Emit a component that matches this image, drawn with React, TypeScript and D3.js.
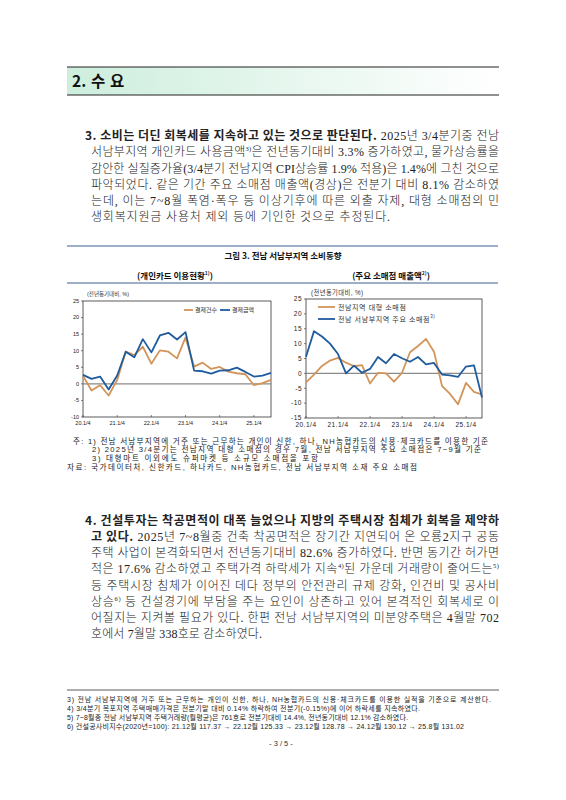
import React from 'react';
import * as d3 from 'd3';

// ---- chart data (YoY %, quarterly 20.1/4 ~ 25.3/4) ----
const cardCount = [2.4, -2.0, -0.4, -3.5, 1.2, 9.7, 8.7, 11.2, 6.1, 10.1, 9.7, 7.7, 14.0, 5.2, 6.4, 4.5, 5.1, 3.7, 3.2, 2.9, -0.4, 0.2, 1.2];
const cardAmount = [2.7, 1.5, 2.2, -1.7, 2.5, 9.7, 8.0, 13.5, 9.5, 14.6, 15.4, 13.4, 15.6, 4.0, 3.8, 3.1, 4.0, 4.1, 4.9, 3.6, 2.2, 2.5, 3.3];
const bigStore = [-3.0, -0.4, 2.5, 4.3, 5.2, 3.6, 2.4, 2.8, -3.4, 0.2, 0.0, -2.8, 0.2, 7.1, 9.2, 11.6, 7.3, -4.2, -6.9, -10.4, -3.2, -6.2, -7.1];
const mainStore = [5.6, 14.2, 12.4, 10.0, 6.5, 0.0, 2.6, 0.2, 1.5, 5.5, 3.4, 6.5, 5.1, 3.9, 5.5, 3.0, 3.5, -0.4, -0.7, -1.2, 2.3, 2.7, -8.1];
const xTickLabels = ['20.1/4', '21.1/4', '22.1/4', '23.1/4', '24.1/4', '25.1/4'];
const leftYTicks = [25, 20, 15, 10, 5, 0, -5, -10];
const rightYTicks = [25, 20, 15, 10, 5, 0, -5, -10, -15];

const ORANGE = '#d39459';
const BLUE = '#1f5c9e';
const KR = "'Noto Sans CJK KR', sans-serif";
const BODY = "'Liberation Serif', 'Noto Sans CJK KR', serif";
const NOTE = "'Liberation Sans', 'Noto Sans CJK KR', sans-serif";

// ---- body text lines ----
type Seg = { t: string; b?: boolean; sup?: boolean };
const para3: Seg[][] = [
  [{ t: '3. 소비는 더딘 회복세를 지속하고 있는 것으로 판단된다.', b: true }, { t: ' 2025년 3/4분기중 전남' }],
  [{ t: '서남부지역 개인카드 사용금액' }, { t: '3)', sup: true }, { t: '은 전년동기대비 3.3% 증가하였고, 물가상승률을' }],
  [{ t: '감안한 실질증가율(3/4분기 전남지역 CPI상승률 1.9% 적용)은 1.4%에 그친 것으로' }],
  [{ t: '파악되었다. 같은 기간 주요 소매점 매출액(경상)은 전분기 대비 8.1% 감소하였' }],
  [{ t: '는데, 이는 7~8월 폭염·폭우 등 이상기후에 따른 외출 자제, 대형 소매점의 민' }],
  [{ t: '생회복지원금 사용처 제외 등에 기인한 것으로 추정된다.' }],
];
const para4: Seg[][] = [
  [{ t: '4. 건설투자는 착공면적이 대폭 늘었으나 지방의 주택시장 침체가 회복을 제약하', b: true }],
  [{ t: '고 있다.', b: true }, { t: ' 2025년 7~8월중 건축 착공면적은 장기간 지연되어 온 오룡2지구 공동' }],
  [{ t: '주택 사업이 본격화되면서 전년동기대비 82.6% 증가하였다. 반면 동기간 허가면' }],
  [{ t: '적은 17.6% 감소하였고 주택가격 하락세가 지속' }, { t: '4)', sup: true }, { t: '된 가운데 거래량이 줄어드는' }, { t: '5)', sup: true }],
  [{ t: '등 주택시장 침체가 이어진 데다 정부의 안전관리 규제 강화, 인건비 및 공사비' }],
  [{ t: '상승' }, { t: '6)', sup: true }, { t: ' 등 건설경기에 부담을 주는 요인이 상존하고 있어 본격적인 회복세로 이' }],
  [{ t: '어질지는 지켜볼 필요가 있다. 한편 전남 서남부지역의 미분양주택은 4월말 702' }],
  [{ t: '호에서 7월말 338호로 감소하였다.' }],
];
const chartNotes: [string, number, number][] = [
  ['주: 1) 전남 서남부지역에 거주 또는 근무하는 개인이 신한, 하나, NH농협카드의 신용·체크카드를 이용한 기준', 73, 415],
  ['2) 2025년 3/4분기는 전남지역 대형 소매점의 경우 7월, 전남 서남부지역 주요 소매점은 7~9월 기준', 92, 389],
  ['3) 대형마트 이외에도 슈퍼마켓 등 소규모 소매점을 포함', 92, 226],
  ['자료: 국가데이터처, 신한카드, 하나카드, NH농협카드, 전남 서남부지역 소재 주요 소매점', 67, 350],
];
const footnotes: [string, number][] = [
  ['3) 전남 서남부지역에 거주 또는 근무하는 개인이 신한, 하나, NH농협카드의 신용·체크카드를 이용한 실적을 기준으로 계산한다.', 424],
  ['4) 3/4분기 목포지역 주택매매가격은 전분기말 대비 0.14% 하락하여 전분기(-0.15%)에 이어 하락세를 지속하였다.', 353],
  ['5) 7~8월중 전남 서남부지역 주택거래량(월평균)은 761호로 전분기대비 14.4%, 전년동기대비 12.1% 감소하였다.', 341],
  ['6) 건설공사비지수(2020년=100): 21.12월 117.37 → 22.12월 125.33 → 23.12월 128.78 → 24.12월 130.12 → 25.8월 131.02', 397],
];

const Para: React.FC<{ lines: Seg[][]; y0: number; lastW: number }> = ({ lines, y0, lastW }) => (
  <g>
    {lines.map((segs, i) => {
      const x = i === 0 ? 85 : 91;
      const w = i === lines.length - 1 ? lastW : 499 - x;
      return (
        <text key={i} x={x} y={y0 + i * 16.25} textLength={w} lengthAdjust="spacing" fontSize={12} fill="#222" fontFamily={BODY}>
          {segs.map((s, j) => (
            <tspan key={j}
              fontFamily={s.b ? KR : BODY}
              fontWeight={s.b ? 700 : 300}
              fontSize={s.sup ? 6.5 : 12}
              baselineShift={s.sup ? '5' : undefined}>{s.t}</tspan>
          ))}
        </text>
      );
    })}
  </g>
);

interface ChartProps {
  x0: number; x1: number; y0: number; y1: number;
  domain: [number, number]; ticks: number[];
  series: { values: number[]; color: string }[];
  fs: number; ls: number;
}
const LineChart: React.FC<ChartProps> = ({ x0, x1, y0, y1, domain, ticks, series, fs, ls }) => {
  const n = series[0].values.length;
  const x = d3.scaleLinear().domain([0, n - 1]).range([x0, x1]);
  const y = d3.scaleLinear().domain(domain).range([y1, y0]);
  const line = d3.line<number>().x((_, i) => x(i)).y((d) => y(d));
  return (
    <g>
      <rect x={x0} y={y0} width={x1 - x0} height={y1 - y0} fill="none" stroke="#333" strokeWidth={0.8} />
      {ticks.map((t) => (
        <g key={t}>
          <line x1={x0 - 2} x2={x0} y1={y(t)} y2={y(t)} stroke="#333" strokeWidth={0.6} />
          <text x={x0 - 4} y={y(t) + fs * 0.35} textAnchor="end" fontSize={fs} letterSpacing={ls} fontFamily={NOTE} fill="#222">{t}</text>
        </g>
      ))}
      {xTickLabels.map((l, i) => (
        <g key={l}>
          <line x1={x(i * 4)} x2={x(i * 4)} y1={y1} y2={y1 - 2} stroke="#333" strokeWidth={0.6} />
          <text x={x(i * 4)} y={y1 + fs + 2} textAnchor="middle" fontSize={fs} letterSpacing={ls} fontFamily={NOTE} fill="#222">{l}</text>
        </g>
      ))}
      <line x1={x0} x2={x1} y1={y(0)} y2={y(0)} stroke="#8a8a8a" strokeWidth={1.3} />
      {series.map((s, i) => (
        <path key={i} d={line(s.values) || ''} fill="none" stroke={s.color} strokeWidth={1.8} strokeLinejoin="round" />
      ))}
    </g>
  );
};

const App: React.FC = () => (
  <svg width={566} height={800} style={{ position: 'absolute', left: 0, top: 0, background: '#fff' }}>
    <defs>
      <linearGradient id="hdr" x1="0" x2="1" y1="0" y2="0">
        <stop offset="0" stopColor="#cdeedd" />
        <stop offset="1" stopColor="#ffffff" />
      </linearGradient>
    </defs>
    {/* section header */}
    <rect x={67} y={67} width={432} height={28} fill="url(#hdr)" />
    <line x1={67} x2={499} y1={67} y2={67} stroke="#222" strokeWidth={1.2} />
    <line x1={67} x2={499} y1={95} y2={95} stroke="#222" strokeWidth={1.2} />
    <text y={87} fontSize={15.5} fontWeight={700} fontFamily={KR} fill="#111">
      <tspan x={72}>2.</tspan>
      <tspan x={91}>수</tspan>
      <tspan x={110}>요</tspan>
    </text>

    <Para lines={para3} y0={140} lastW={299} />

    {/* figure */}
    <line x1={67} x2={498} y1={246} y2={246} stroke="#3d5f8f" strokeWidth={1} />
    <text x={283} y={259} textAnchor="middle" fontSize={8.5} fontWeight={700} fontFamily={KR} fill="#111">그림 3. 전남 서남부지역 소비동향</text>
    <text x={175} y={279} textAnchor="middle" fontSize={8.5} fontWeight={700} fontFamily={KR} fill="#111">
      (개인카드 이용현황<tspan fontSize={5} baselineShift="4">1)</tspan>)
    </text>
    <text x={391} y={279} textAnchor="middle" fontSize={8.5} fontWeight={700} fontFamily={KR} fill="#111">
      (주요 소매점 매출액<tspan fontSize={5} baselineShift="4">2)</tspan>)
    </text>
    <line x1={67} x2={498} y1={283} y2={283} stroke="#3d5f8f" strokeWidth={1} />

    <text x={87} y={296} fontSize={5.5} fontFamily={NOTE} fill="#333">(전년동기대비, %)</text>
    <LineChart x0={83} x1={271} y0={301} y1={417} domain={[-10, 25]} ticks={leftYTicks}
      series={[{ values: cardCount, color: ORANGE }, { values: cardAmount, color: BLUE }]} fs={5.5} ls={0} />
    <line x1={184} x2={193} y1={310} y2={310} stroke={ORANGE} strokeWidth={1.8} />
    <text x={195} y={312} fontSize={6} fontFamily={NOTE} fill="#333">결제건수</text>
    <line x1={220} x2={230} y1={310} y2={310} stroke={BLUE} strokeWidth={1.8} />
    <text x={232} y={312} fontSize={6} fontFamily={NOTE} fill="#333">결제금액</text>

    <text x={311} y={295} fontSize={6.3} letterSpacing={0.4} fontFamily={NOTE} fill="#333">(전년동기대비, %)</text>
    <LineChart x0={306} x1={482} y0={299} y1={418} domain={[-15, 25]} ticks={rightYTicks}
      series={[{ values: bigStore, color: ORANGE }, { values: mainStore, color: BLUE }]} fs={6.5} ls={0.5} />
    <line x1={318} x2={335} y1={307} y2={307} stroke={ORANGE} strokeWidth={1.8} />
    <text x={338} y={309.5} fontSize={7} letterSpacing={0.6} fontFamily={NOTE} fill="#333">전남지역 대형 소매점</text>
    <line x1={318} x2={335} y1={319} y2={319} stroke={BLUE} strokeWidth={1.8} />
    <text x={338} y={321.5} fontSize={7} letterSpacing={0.6} fontFamily={NOTE} fill="#333">
      전남 서남부지역 주요 소매점<tspan fontSize={4.5} baselineShift="4">3)</tspan>
    </text>

    {chartNotes.map(([t, x, w], i) => (
      <text key={i} x={x} y={443.5 + i * 8.7} textLength={w} lengthAdjust="spacing" fontSize={7.6} fontFamily={NOTE} fill="#222">{t}</text>
    ))}

    <Para lines={para4} y0={524.5} lastW={171} />

    <line x1={67} x2={499} y1={690} y2={690} stroke="#333" strokeWidth={0.8} />
    {footnotes.map(([t, w], i) => (
      <text key={i} x={67} y={701.5 + i * 9} textLength={w} lengthAdjust="spacing" fontSize={7} fontFamily={NOTE} fill="#222">{t}</text>
    ))}
    <text x={281} y={746} textAnchor="middle" fontSize={7.5} fontFamily={NOTE} fill="#333">- 3 / 5 -</text>
  </svg>
);

export default App;
